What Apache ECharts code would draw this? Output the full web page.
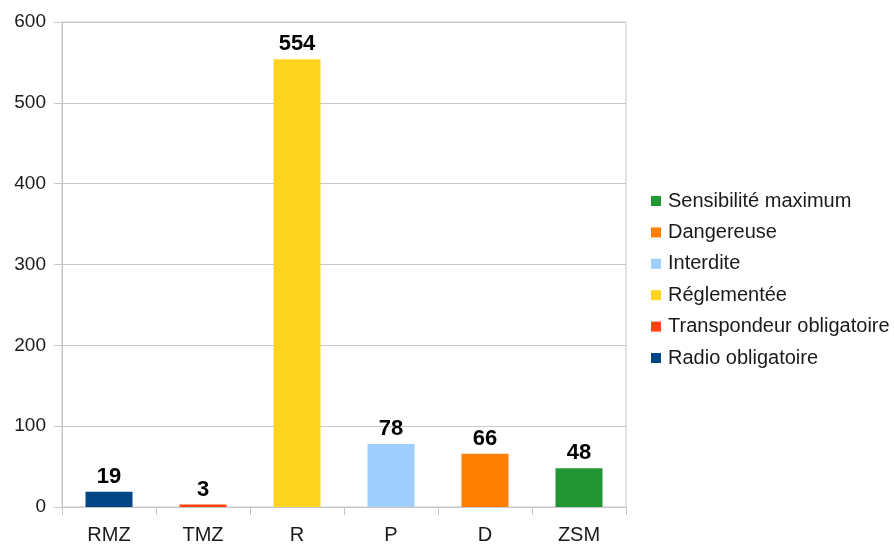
<!DOCTYPE html>
<html>
<head>
<meta charset="utf-8">
<script src="https://cdn.jsdelivr.net/npm/echarts@6/dist/echarts.min.js"></script>
<style>html,body{margin:0;padding:0;background:#fff}#c{width:894px;height:545px}</style>
</head>
<body>
<div id="c"></div>
<script>
const categories = ['RMZ', 'TMZ', 'R', 'P', 'D', 'ZSM'];
const values = [19, 3, 554, 78, 66, 48];
const seriesNames = ['Radio obligatoire', 'Transpondeur obligatoire', 'Réglementée', 'Interdite', 'Dangereuse', 'Sensibilité maximum'];
const colors = ['#004586', '#ff420e', '#ffd320', '#9fcfff', '#ff8000', '#229633'];
const yTicks = { min: 0, max: 600, interval: 100 };

const chart = echarts.init(document.getElementById('c'), null, { renderer: 'canvas' });
const series = seriesNames.map((name, i) => ({
  name: name,
  type: 'bar',
  stack: 'all',
  barWidth: '50%',
  itemStyle: { color: colors[i] },
  label: {
    show: true, position: 'top', distance: 4,
    fontFamily: 'Liberation Sans', fontWeight: 'bold', fontSize: 22, color: '#000'
  },
  data: categories.map((c, j) => j === i ? values[i] : '-')
}));

chart.setOption({
  animation: false,
  backgroundColor: '#fff',
  grid: { left: 62, right: 268, top: 22, bottom: 38, show: true, borderColor: '#c8c8c8', borderWidth: 1 },
  legend: {
    orient: 'vertical', left: 646, top: 185,
    data: seriesNames.slice().reverse(),
    itemWidth: 10, itemHeight: 10, itemGap: 9.4, icon: 'rect',
    textStyle: { fontFamily: 'Liberation Sans', fontSize: 20, lineHeight: 22, color: '#1a1a1a', padding: [0, 0, 0, 2] }
  },
  xAxis: {
    type: 'category', data: categories,
    axisLine: { lineStyle: { color: '#c8c8c8' } },
    axisTick: { show: true, length: 8, alignWithLabel: false, lineStyle: { color: '#c8c8c8' } },
    axisLabel: { fontFamily: 'Liberation Sans', fontSize: 20, color: '#1a1a1a', margin: 18 }
  },
  yAxis: {
    type: 'value', min: yTicks.min, max: yTicks.max, interval: yTicks.interval,
    axisLine: { show: true, lineStyle: { color: '#c8c8c8' } },
    axisTick: { show: true, length: 8, lineStyle: { color: '#c8c8c8' } },
    splitLine: { lineStyle: { color: '#c8c8c8' } },
    axisLabel: { fontFamily: 'Liberation Sans', fontSize: 19, color: '#1a1a1a', margin: 16 }
  },
  series: series
});
</script>
</body>
</html>
